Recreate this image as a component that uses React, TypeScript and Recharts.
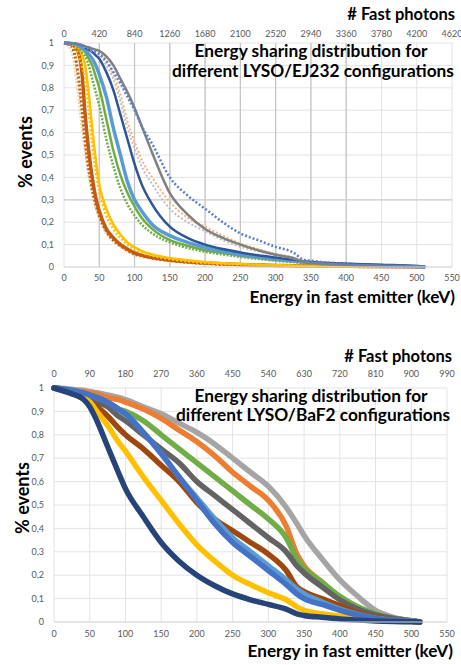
import { CartesianGrid, Line, LineChart, ReferenceLine, XAxis, YAxis } from 'recharts';

// keV sampling grids
const ej232KeV = [0, 10, 20, 25, 30, 35, 40, 45, 50, 60, 70, 80, 90, 100, 110, 125, 150, 175, 200, 225, 250, 275, 300, 325, 340, 350, 400, 450, 500, 512];
const baf2KeV = [0, 25, 40, 50, 60, 75, 90, 100, 125, 150, 175, 200, 225, 250, 275, 300, 325, 340, 350, 375, 400, 425, 450, 475, 500, 512];

// LYSO/EJ232 panel
const ej232Faint = [1, 0.97, 0.78, 0.64, 0.52, 0.41, 0.33, 0.27, 0.22, 0.15, 0.115, 0.09, 0.07, 0.055, 0.047, 0.038, 0.028, 0.02, 0.015, 0.012, 0.01, 0.008, 0.006, 0.005, 0.004, 0.003, 0.002, 0.001, 0.0005, 0];
const ej232DarkOrangeDot = [1, 0.99, 0.86, 0.72, 0.56, 0.44, 0.35, 0.28, 0.23, 0.16, 0.12, 0.095, 0.075, 0.058, 0.05, 0.04, 0.029, 0.021, 0.016, 0.012, 0.01, 0.008, 0.006, 0.005, 0.004, 0.003, 0.002, 0.001, 0.0005, 0];
const ej232Orange = [1, 0.995, 0.96, 0.88, 0.68, 0.52, 0.4, 0.31, 0.25, 0.17, 0.13, 0.1, 0.08, 0.063, 0.053, 0.042, 0.031, 0.023, 0.018, 0.014, 0.011, 0.009, 0.007, 0.006, 0.005, 0.004, 0.003, 0.002, 0.001, 0];
const ej232YellowDot = [1, 0.995, 0.95, 0.9, 0.84, 0.7, 0.55, 0.43, 0.34, 0.23, 0.17, 0.13, 0.1, 0.078, 0.064, 0.05, 0.035, 0.025, 0.018, 0.014, 0.011, 0.009, 0.007, 0.006, 0.005, 0.004, 0.003, 0.002, 0.001, 0];
const ej232Yellow = [1, 0.998, 0.98, 0.95, 0.9, 0.78, 0.62, 0.48, 0.37, 0.26, 0.19, 0.145, 0.11, 0.088, 0.072, 0.056, 0.04, 0.03, 0.022, 0.017, 0.013, 0.01, 0.008, 0.006, 0.005, 0.004, 0.003, 0.002, 0.001, 0];
const ej232GreenDot = [1, 0.998, 0.98, 0.96, 0.94, 0.9, 0.84, 0.78, 0.72, 0.57, 0.45, 0.35, 0.28, 0.23, 0.19, 0.15, 0.11, 0.085, 0.068, 0.056, 0.045, 0.036, 0.028, 0.022, 0.018, 0.015, 0.008, 0.004, 0.001, 0];
const ej232Green = [1, 0.999, 0.99, 0.975, 0.96, 0.93, 0.9, 0.85, 0.8, 0.66, 0.52, 0.41, 0.33, 0.27, 0.22, 0.17, 0.12, 0.095, 0.075, 0.062, 0.05, 0.04, 0.031, 0.024, 0.02, 0.016, 0.01, 0.005, 0.002, 0];
const ej232LightBlue = [1, 0.999, 0.99, 0.98, 0.97, 0.95, 0.93, 0.9, 0.86, 0.76, 0.62, 0.5, 0.38, 0.3, 0.25, 0.19, 0.14, 0.11, 0.087, 0.07, 0.056, 0.045, 0.036, 0.028, 0.022, 0.019, 0.012, 0.006, 0.002, 0];
const ej232DarkBlue = [1, 0.999, 0.995, 0.99, 0.98, 0.97, 0.96, 0.945, 0.93, 0.87, 0.79, 0.68, 0.57, 0.46, 0.37, 0.28, 0.18, 0.13, 0.1, 0.08, 0.065, 0.052, 0.042, 0.033, 0.026, 0.022, 0.015, 0.01, 0.004, 0];
const ej232GreyDot = [1, 0.999, 0.995, 0.99, 0.98, 0.975, 0.965, 0.96, 0.95, 0.9, 0.84, 0.74, 0.62, 0.53, 0.45, 0.37, 0.26, 0.2, 0.16, 0.12, 0.09, 0.07, 0.052, 0.038, 0.022, 0.018, 0.008, 0.004, 0.001, 0];
const ej232OrangeDot = [1, 0.999, 0.995, 0.99, 0.985, 0.98, 0.975, 0.97, 0.96, 0.92, 0.86, 0.77, 0.65, 0.56, 0.48, 0.4, 0.29, 0.22, 0.18, 0.14, 0.105, 0.08, 0.058, 0.042, 0.024, 0.02, 0.01, 0.005, 0.002, 0];
const ej232Grey = [1, 0.999, 0.995, 0.99, 0.985, 0.98, 0.975, 0.97, 0.965, 0.94, 0.9, 0.84, 0.78, 0.71, 0.63, 0.51, 0.33, 0.235, 0.17, 0.13, 0.1, 0.075, 0.055, 0.04, 0.022, 0.018, 0.01, 0.005, 0.002, 0];
const ej232BlueDot = [1, 0.999, 0.995, 0.99, 0.985, 0.98, 0.97, 0.96, 0.95, 0.92, 0.87, 0.82, 0.76, 0.7, 0.63, 0.55, 0.4, 0.32, 0.26, 0.2, 0.15, 0.12, 0.09, 0.065, 0.032, 0.028, 0.013, 0.006, 0.002, 0];

// LYSO/BaF2 panel
const baf2LightGrey = [1, 0.995, 0.99, 0.985, 0.98, 0.97, 0.96, 0.95, 0.92, 0.89, 0.85, 0.81, 0.76, 0.7, 0.64, 0.58, 0.49, 0.42, 0.37, 0.27, 0.18, 0.11, 0.05, 0.02, 0.005, 0];
const baf2Orange = [1, 0.99, 0.985, 0.98, 0.975, 0.96, 0.95, 0.94, 0.91, 0.87, 0.82, 0.77, 0.71, 0.64, 0.58, 0.52, 0.41, 0.29, 0.24, 0.17, 0.1, 0.06, 0.03, 0.015, 0.005, 0];
const baf2Green = [1, 0.99, 0.98, 0.97, 0.96, 0.93, 0.91, 0.9, 0.86, 0.8, 0.74, 0.68, 0.62, 0.56, 0.5, 0.44, 0.36, 0.27, 0.23, 0.17, 0.11, 0.065, 0.035, 0.015, 0.005, 0];
const baf2DarkGrey = [1, 0.98, 0.965, 0.955, 0.94, 0.92, 0.88, 0.86, 0.8, 0.74, 0.68, 0.6, 0.54, 0.48, 0.42, 0.36, 0.3, 0.24, 0.21, 0.15, 0.095, 0.055, 0.03, 0.015, 0.005, 0];
const baf2Brown = [1, 0.98, 0.955, 0.94, 0.92, 0.88, 0.83, 0.8, 0.74, 0.67, 0.6, 0.51, 0.44, 0.39, 0.34, 0.29, 0.22, 0.15, 0.13, 0.1, 0.07, 0.04, 0.02, 0.01, 0.004, 0];
const baf2LightBlue = [1, 0.99, 0.98, 0.97, 0.96, 0.94, 0.91, 0.89, 0.81, 0.72, 0.62, 0.53, 0.44, 0.36, 0.3, 0.24, 0.18, 0.14, 0.12, 0.085, 0.055, 0.032, 0.016, 0.008, 0.003, 0];
const baf2Blue = [1, 0.99, 0.98, 0.97, 0.96, 0.94, 0.91, 0.89, 0.81, 0.72, 0.62, 0.52, 0.42, 0.34, 0.28, 0.22, 0.16, 0.12, 0.1, 0.075, 0.05, 0.03, 0.015, 0.007, 0.003, 0];
const baf2Yellow = [1, 0.98, 0.96, 0.94, 0.9, 0.84, 0.77, 0.73, 0.62, 0.52, 0.42, 0.33, 0.26, 0.2, 0.16, 0.125, 0.095, 0.065, 0.05, 0.035, 0.025, 0.016, 0.01, 0.005, 0.002, 0];
const baf2Navy = [1, 0.975, 0.955, 0.92, 0.86, 0.75, 0.64, 0.57, 0.45, 0.34, 0.26, 0.2, 0.155, 0.12, 0.095, 0.075, 0.055, 0.035, 0.028, 0.02, 0.013, 0.008, 0.004, 0.002, 0.001, 0];

// axis ticks
const keVTicks = [0, 50, 100, 150, 200, 250, 300, 350, 400, 450, 500, 550];
const ej232PhotonTicks = [0, 420, 840, 1260, 1680, 2100, 2520, 2940, 3360, 3780, 4200, 4620];
const baf2PhotonTicks = [0, 90, 180, 270, 360, 450, 540, 630, 720, 810, 900, 990];
const eventTicks = [0, 0.1, 0.2, 0.3, 0.4, 0.5, 0.6, 0.7, 0.8, 0.9, 1];
const ej232DarkGrid = [50, 100, 150, 200, 250, 300, 350, 400];

const toPoints = (xs: number[], ys: number[]) => xs.map((x, i) => ({ x, y: ys[i] }));
const fmtEvents = (v: number) => (v === 0 || v === 1 ? String(v) : v.toFixed(1).replace('.', ','));

const FONT = 'Lato, "Open Sans", sans-serif';
const tickStyle = { fontSize: 9, fill: '#595959', fontFamily: FONT };

type Series = { key: string; data: number[]; color: string; width: number; dash?: string };

const ej232Series: Series[] = [
  { key: 'faint', data: ej232Faint, color: '#e8d9a8', width: 3, dash: '2 1.5' },
  { key: 'orangeSolid', data: ej232Orange, color: '#c55a11', width: 3.5 },
  { key: 'darkOrangeDot', data: ej232DarkOrangeDot, color: '#c55a11', width: 3, dash: '2 2' },
  { key: 'yellowDot', data: ej232YellowDot, color: '#ffc000', width: 2.5, dash: '2 2' },
  { key: 'yellow', data: ej232Yellow, color: '#ffc000', width: 2.5 },
  { key: 'greenDot', data: ej232GreenDot, color: '#70ad47', width: 2.5, dash: '2 1.5' },
  { key: 'green', data: ej232Green, color: '#70ad47', width: 2.5 },
  { key: 'lightBlue', data: ej232LightBlue, color: '#5b9bd5', width: 3.5 },
  { key: 'darkBlue', data: ej232DarkBlue, color: '#2f5597', width: 2.5 },
  { key: 'greyDot', data: ej232GreyDot, color: '#bfbfbf', width: 2, dash: '2 2' },
  { key: 'orangeDot', data: ej232OrangeDot, color: '#f4b183', width: 2, dash: '2 2' },
  { key: 'grey', data: ej232Grey, color: '#808080', width: 2.5 },
  { key: 'blueDot', data: ej232BlueDot, color: '#5b7fd0', width: 2.5, dash: '2 2' },
];

const baf2Series: Series[] = [
  { key: 'lightGrey', data: baf2LightGrey, color: '#a5a5a5', width: 5.5 },
  { key: 'orange', data: baf2Orange, color: '#ed7d31', width: 5.5 },
  { key: 'green', data: baf2Green, color: '#70ad47', width: 5.5 },
  { key: 'darkGrey', data: baf2DarkGrey, color: '#636363', width: 5.5 },
  { key: 'brown', data: baf2Brown, color: '#9e480e', width: 5.5 },
  { key: 'lightBlue', data: baf2LightBlue, color: '#5b9bd5', width: 5.5 },
  { key: 'yellow', data: baf2Yellow, color: '#ffc000', width: 5.5 },
  { key: 'blue', data: baf2Blue, color: '#4472c4', width: 5.5 },
  { key: 'navy', data: baf2Navy, color: '#264478', width: 5.5 },
];

function Panel({ series, keV, photonTicks, height, margin, darkGrid, topGap, bottomGap, roundCaps }: {
  series: Series[];
  keV: number[];
  photonTicks: number[];
  height: number;
  margin: { top: number; right: number; bottom: number; left: number };
  darkGrid: number[];
  topGap: number;
  bottomGap: number;
  roundCaps?: boolean;
}) {
  const photonMax = photonTicks[photonTicks.length - 1];
  return (
    <LineChart width={461} height={height} margin={margin}>
      <CartesianGrid stroke="#e3e3e3" strokeWidth={1} />
      {darkGrid.map(x => (
        <ReferenceLine key={x} x={x} stroke="#c4c4c4" strokeWidth={1.2} />
      ))}
      {darkGrid.length > 0 && <ReferenceLine y={0.3} stroke="#cfcfcf" strokeWidth={1.2} />}
      <XAxis
        dataKey="x"
        type="number"
        domain={[0, 550]}
        ticks={keVTicks}
        interval={0}
        tick={tickStyle}
        tickLine={false}
        axisLine={{ stroke: '#d9d9d9' }}
        tickSize={0}
        tickMargin={bottomGap}
        height={20}
      />
      <XAxis
        xAxisId="top"
        dataKey="x"
        orientation="top"
        type="number"
        domain={[0, photonMax]}
        allowDataOverflow
        ticks={photonTicks}
        interval={0}
        tick={tickStyle}
        tickLine={false}
        axisLine={false}
        tickSize={0}
        tickMargin={topGap}
        height={20}
      />
      <YAxis
        type="number"
        domain={[0, 1]}
        ticks={eventTicks}
        interval={0}
        tickFormatter={fmtEvents}
        tick={tickStyle}
        tickLine={false}
        axisLine={false}
        tickSize={0}
        tickMargin={10}
        width={40}
      />
      {/* empty series so the secondary photon axis gets a scale */}
      <Line
        xAxisId="top"
        data={photonTicks.map(x => ({ x }))}
        dataKey="y"
        stroke="none"
        dot={false}
        activeDot={false}
        isAnimationActive={false}
      />
      {series.map(s => (
        <Line
          key={s.key}
          data={toPoints(keV, s.data)}
          dataKey="y"
          type="monotone"
          stroke={s.color}
          strokeWidth={s.width}
          strokeDasharray={s.dash}
          strokeLinecap={roundCaps ? 'round' : 'butt'}
          strokeLinejoin="round"
          dot={false}
          isAnimationActive={false}
        />
      ))}
    </LineChart>
  );
}

const titleStyle = { fontFamily: FONT, fontWeight: 700, fill: '#000' };

export default function App() {
  return (
    <div style={{ position: 'absolute', left: 0, top: 0, width: 461, height: 665, background: '#fff' }}>
      <div style={{ position: 'absolute', left: 0, top: 0 }}>
        <Panel
          series={ej232Series}
          keV={ej232KeV}
          photonTicks={ej232PhotonTicks}
          height={300}
          margin={{ top: 23, right: 9, bottom: 13, left: 24 }}
          darkGrid={ej232DarkGrid}
          topGap={6}
          bottomGap={8}
        />
      </div>
      <div style={{ position: 'absolute', left: 0, top: 330 }}>
        <Panel
          series={baf2Series}
          keV={baf2KeV}
          photonTicks={baf2PhotonTicks}
          height={335}
          margin={{ top: 38, right: 14, bottom: 23, left: 14 }}
          darkGrid={[]}
          topGap={11}
          bottomGap={9}
          roundCaps
        />
      </div>
      <svg width={461} height={665} style={{ position: 'absolute', left: 0, top: 0, pointerEvents: 'none' }}>
        <text x={455} y={20} textAnchor="end" fontSize={16.5} {...titleStyle}># Fast photons</text>
        <text x={311} y={57} textAnchor="middle" fontSize={17.3} {...titleStyle}>Energy sharing distribution for</text>
        <text x={313} y={77} textAnchor="middle" fontSize={17.3} {...titleStyle}>different LYSO/EJ232 configurations</text>
        <text x={455} y={303} textAnchor="end" fontSize={17.2} {...titleStyle}>Energy in fast emitter (keV)</text>
        <text transform="translate(32,152) rotate(-90)" textAnchor="middle" fontSize={18} {...titleStyle}>% events</text>

        <text x={452} y={362} textAnchor="end" fontSize={16.5} {...titleStyle}># Fast photons</text>
        <text x={311} y={402} textAnchor="middle" fontSize={17.3} {...titleStyle}>Energy sharing distribution for</text>
        <text x={313} y={421} textAnchor="middle" fontSize={17.3} {...titleStyle}>different LYSO/BaF2 configurations</text>
        <text x={453} y={657} textAnchor="end" fontSize={17.2} {...titleStyle}>Energy in fast emitter (keV)</text>
        <text transform="translate(29,498) rotate(-90)" textAnchor="middle" fontSize={18} {...titleStyle}>% events</text>
      </svg>
    </div>
  );
}
